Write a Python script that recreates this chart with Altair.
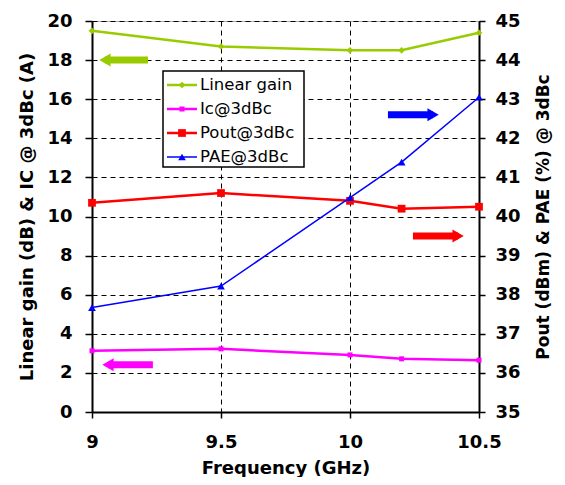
import altair as alt
import pandas as pd

# ---- data ----
freq = [9.0, 9.5, 10.0, 10.2, 10.5]
linear_gain = [19.5, 18.7, 18.5, 18.5, 19.4]      # left axis (dB)
ic_3dbc = [3.13, 3.23, 2.92, 2.72, 2.65]          # left axis (A)
pout_3dbc = [40.35, 40.6, 40.4, 40.2, 40.25]      # right axis (dBm)
pae_3dbc = [37.67, 38.22, 40.48, 41.39, 43.05]    # right axis (%)

series_names = ["Linear gain", "Ic@3dBc", "Pout@3dBc", "PAE@3dBc"]
series_colors = ["#99CC00", "#FF00FF", "#FF0000", "#0000FF"]

# annotation arrows: (head x, tail x, y value)
arrow_green = [9.05, 9.217, 18.0]
arrow_magenta = [9.062, 9.236, 2.42]
arrow_blue = [10.322, 10.147, 42.6]
arrow_red = [10.419, 10.244, 39.5]

x_ticks = [9, 9.5, 10, 10.5]

FONT = "DejaVu Sans"

x_scale = alt.Scale(domain=[9, 10.5], nice=False, zero=False)
x_axis = alt.Axis(values=x_ticks, format="~g", title="Frequency (GHz)",
                  grid=True, gridColor="black", gridDash=[5, 4], gridWidth=1,
                  labelFlush=False, tickSize=6, labelPadding=15, titlePadding=8)

yl_scale = alt.Scale(domain=[0, 20], nice=False, zero=False)
yl_axis = alt.Axis(values=list(range(0, 21, 2)), title="Linear gain (dB) & IC @ 3dBc (A)",
                   grid=True, gridColor="black", gridDash=[5, 4], gridWidth=1,
                   labelFlush=False, tickSize=7, labelPadding=13, titlePadding=10)

yr_scale = alt.Scale(domain=[35, 45], nice=False, zero=False)
yr_axis = alt.Axis(values=list(range(35, 46)), title="Pout (dBm) & PAE (%) @ 3dBc",
                   orient="right", grid=False, labelFlush=False, tickSize=6, labelPadding=10,
                   titlePadding=15, titleAngle=270, titleBaseline="top", titleFontSize=17)


def X(field):
    return alt.X(f"{field}:Q", scale=x_scale, axis=x_axis)


def series_df(values):
    return pd.DataFrame({"freq": freq, "val": values})


def line(values, color, shape, size, width, yscale, yaxis):
    return alt.Chart(series_df(values)).mark_line(
        color=color, strokeWidth=width,
        point=alt.OverlayMarkDef(shape=shape, size=size, filled=True, color=color, opacity=1)
    ).encode(x=X("freq"), y=alt.Y("val:Q", scale=yscale, axis=yaxis))


def arrow(spec, color, direction, yscale, yaxis):
    head, tail, yv = spec
    df = pd.DataFrame({"head": [head], "tail": [tail], "yv": [yv]})
    shaft = alt.Chart(df).mark_rule(color=color, strokeWidth=7, strokeCap="butt").encode(
        x=X("head"), x2="tail:Q", y=alt.Y("yv:Q", scale=yscale, axis=yaxis))
    tip = alt.Chart(df).mark_point(shape=f"triangle-{direction}", size=170, filled=True,
                                   color=color, opacity=1).encode(
        x=X("head"), y=alt.Y("yv:Q", scale=yscale, axis=yaxis))
    return shaft + tip


left = alt.layer(
    line(linear_gain, series_colors[0], "diamond", 45, 2.5, yl_scale, yl_axis),
    line(ic_3dbc, series_colors[1], "square", 25, 2.5, yl_scale, yl_axis),
    arrow(arrow_green, series_colors[0], "left", yl_scale, yl_axis),
    arrow(arrow_magenta, series_colors[1], "left", yl_scale, yl_axis),
)

right = alt.layer(
    line(pout_3dbc, series_colors[2], "square", 60, 2.5, yr_scale, yr_axis),
    line(pae_3dbc, series_colors[3], "triangle-up", 60, 1.5, yr_scale, yr_axis),
    arrow(arrow_blue, series_colors[3], "right", yr_scale, yr_axis),
    arrow(arrow_red, series_colors[2], "right", yr_scale, yr_axis),
)

# ---- manual legend (pixel positions inside plot area) ----
dummy = pd.DataFrame({"a": [0]})
legend_layers = [
    alt.Chart(dummy).mark_rect(fill="white", stroke="black", strokeWidth=1.5).encode(
        x=alt.value(71), x2=alt.value(212), y=alt.value(50), y2=alt.value(146))
]
legend_shapes = ["diamond", "square", "square", "triangle-up"]
legend_sizes = [45, 25, 60, 60]
legend_widths = [2.5, 2.5, 2.5, 1.5]
for i, (name, col, shp, sz, w) in enumerate(zip(series_names, series_colors, legend_shapes,
                                                 legend_sizes, legend_widths)):
    yy = 64 + 24 * i
    legend_layers.append(alt.Chart(dummy).mark_rule(color=col, strokeWidth=w).encode(
        x=alt.value(75), x2=alt.value(105), y=alt.value(yy)))
    legend_layers.append(alt.Chart(dummy).mark_point(shape=shp, size=sz, filled=True,
                                                     color=col, opacity=1).encode(
        x=alt.value(90), y=alt.value(yy)))
    legend_layers.append(alt.Chart(dummy).mark_text(align="left", baseline="middle",
                                                    font=FONT, fontSize=16.5, color="black").encode(
        x=alt.value(108), y=alt.value(yy), text=alt.value(name)))

chart = alt.layer(left, right, *legend_layers).resolve_scale(y="independent").properties(
    width=387, height=391,
    autosize=alt.AutoSizeParams(type="none"),
    padding={"left": 84, "top": 13, "right": 76, "bottom": 65},
).configure_axis(
    labelFont=FONT, labelFontSize=18, labelFontWeight="bold", labelColor="black",
    titleFont=FONT, titleFontSize=18, titleFontWeight="bold", titleColor="black",
    domainColor="black", domainWidth=2, tickColor="black", tickWidth=1.5,
).configure_view(stroke="#aaaaaa", strokeWidth=1)

chart.save("out.html", embed_options={"renderer": "svg", "actions": False})
